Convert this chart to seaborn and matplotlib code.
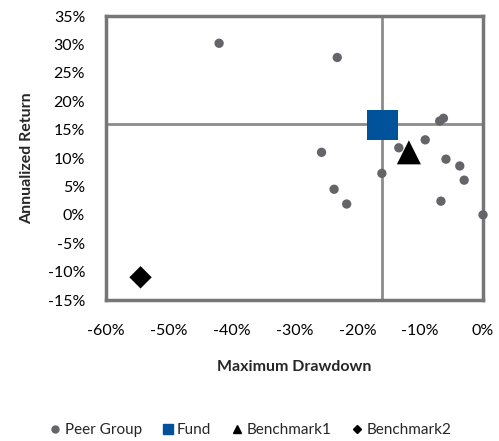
import matplotlib
matplotlib.use("Agg")
import matplotlib.pyplot as plt
import seaborn as sns
import pandas as pd
from matplotlib.ticker import FuncFormatter, MultipleLocator
from matplotlib.lines import Line2D

sns.set_style("white")
plt.rcParams['font.family'] = ['Lato', 'DejaVu Sans']

peer_dd = [-42.0, -23.2, -6.9, -6.3, -9.2, -13.4, -25.7, -5.9, -3.7, -3.0, -16.1, -23.7, -21.7, -6.7, 0.0]
peer_ret = [30.2, 27.7, 16.5, 17.0, 13.2, 11.8, 11.0, 9.8, 8.6, 6.1, 7.3, 4.5, 1.9, 2.4, 0.0]
fund_dd = [-16.0]
fund_ret = [15.8]
bm1_dd = [-11.8]
bm1_ret = [11.0]
bm2_dd = [-54.5]
bm2_ret = [-11.0]
cross_x = -16.0
cross_y = 16.0

fig = plt.figure(figsize=(4.99, 4.41), dpi=100)
ax = fig.add_axes([0.2124, 0.3197, 0.968 - 0.2124, 0.9637 - 0.3197])

ax.axvline(cross_x, color="#8c8c8c", lw=2, zorder=1)
ax.axhline(cross_y, color="#8c8c8c", lw=2, zorder=1)

sns.scatterplot(x=peer_dd, y=peer_ret, ax=ax, color="#646469", marker="o", s=45,
                edgecolor="none", zorder=3, clip_on=False)
sns.scatterplot(x=fund_dd, y=fund_ret, ax=ax, color="#00529b", marker="s", s=480,
                edgecolor="none", zorder=4)
sns.scatterplot(x=bm1_dd, y=bm1_ret, ax=ax, color="black", marker="^", s=300,
                edgecolor="none", zorder=5)
sns.scatterplot(x=bm2_dd, y=bm2_ret, ax=ax, color="black", marker="D", s=130,
                edgecolor="none", zorder=5)

ax.set_xlim(-60, 0)
ax.set_ylim(-15, 35)
ax.xaxis.set_major_locator(MultipleLocator(10))
ax.yaxis.set_major_locator(MultipleLocator(5))
ax.xaxis.set_major_formatter(FuncFormatter(lambda v, p: f"{v:.0f}%"))
ax.yaxis.set_major_formatter(FuncFormatter(lambda v, p: f"{v:.0f}%"))
ax.tick_params(axis="both", length=0, labelsize=11.5, colors="#000000")
ax.tick_params(axis="x", pad=17)
ax.tick_params(axis="y", pad=15)
for sp in ax.spines.values():
    sp.set_color("#767676")
    sp.set_linewidth(2.5)
    sp.set_zorder(2)

ax.set_xlabel("Maximum Drawdown", fontsize=11.5, fontweight="bold", labelpad=16)
ax.set_ylabel("Annualized Return", fontsize=11.5, fontweight="bold", labelpad=10)

handles = [
    Line2D([], [], marker="o", color="#646469", ls="none", markersize=5),
    Line2D([], [], marker="s", color="#00529b", ls="none", markersize=7),
    Line2D([], [], marker="^", color="black", ls="none", markersize=6),
    Line2D([], [], marker="D", color="black", ls="none", markersize=4.5),
]
labels = ["Peer Group", "Fund", "Benchmark1", "Benchmark2"]
fig.legend(handles, labels, loc="center", bbox_to_anchor=(0.5, 0.024), ncol=4,
           frameon=False, fontsize=11, handletextpad=0.1, columnspacing=1.2,
           handlelength=1.0)

fig.savefig("out.png", dpi=100)
